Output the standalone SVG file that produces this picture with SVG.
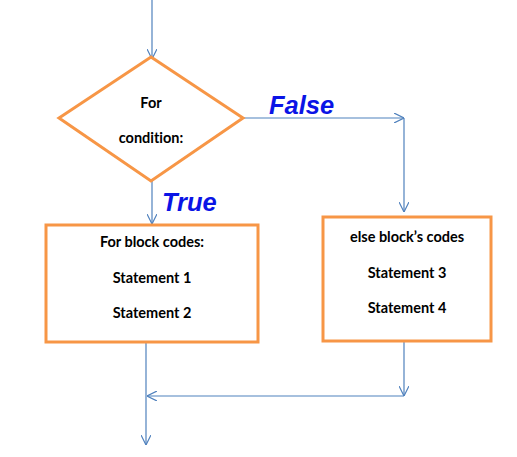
<svg xmlns="http://www.w3.org/2000/svg" width="517" height="457" viewBox="0 0 517 457">
<defs>
<marker id="ah" viewBox="0 0 10 10" refX="10" refY="5" markerWidth="10" markerHeight="10" markerUnits="userSpaceOnUse" orient="auto">
<path d="M0,0 L10,5 L0,10" fill="none" stroke="#4f81bd" stroke-width="1.2"/>
</marker>
<style>
.n{fill:#fff;stroke:#f79646;stroke-width:3}
.c{fill:none;stroke:#4f81bd;stroke-width:1.2}
.t{font-family:Lato,"Liberation Sans",sans-serif;font-weight:bold;font-size:14.5px;fill:#000;text-anchor:middle;font-variant-ligatures:none}
.l{font-family:"Liberation Sans",Arial,sans-serif;font-weight:bold;font-style:italic;font-size:25.5px;fill:#0a14e6}
</style>
</defs>
<rect width="517" height="457" fill="#fff"/>
<g id="connectors">
<path class="c" d="M152,0 L152,59" marker-end="url(#ah)"/>
<path class="c" d="M243,118 L404,118" marker-end="url(#ah)"/>
<path class="c" d="M404,118 L404,212" marker-end="url(#ah)"/>
<path class="c" d="M152,181 L152,224" marker-end="url(#ah)"/>
<path class="c" d="M146,342 L146,445" marker-end="url(#ah)"/>
<path class="c" d="M404,341 L404,396" marker-end="url(#ah)"/>
<path class="c" d="M404,396 L147,396" marker-end="url(#ah)"/>
</g>
<g id="cond">
<polygon class="n" points="151,57 243,118 151,181 59,118"/>
<text class="t" x="151" y="108">For</text>
<text class="t" x="151" y="143">condition:</text>
</g>
<g id="forblock">
<rect class="n" x="46" y="225" width="212" height="117"/>
<text class="t" x="152" y="247">For block codes:</text>
<text class="t" x="152" y="283">Statement 1</text>
<text class="t" x="152" y="318">Statement 2</text>
</g>
<g id="elseblock">
<rect class="n" x="323" y="217" width="168" height="124"/>
<text class="t" x="407" y="242">else block’s codes</text>
<text class="t" x="407" y="278">Statement 3</text>
<text class="t" x="407" y="313">Statement 4</text>
</g>
<g id="labels">
<text class="l" x="269" y="114">False</text>
<text class="l" x="162" y="211">True</text>
</g>
</svg>
